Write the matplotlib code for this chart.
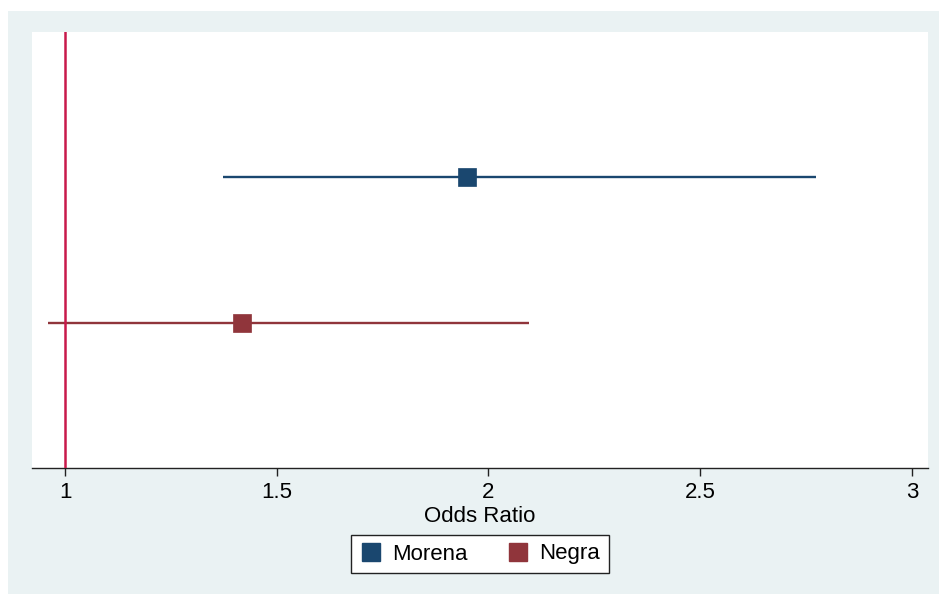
import matplotlib
matplotlib.use("Agg")
import matplotlib.pyplot as plt
from matplotlib.patches import Rectangle
from matplotlib.lines import Line2D

plt.rcParams['font.family'] = ['Liberation Sans', 'DejaVu Sans']

# Odds ratios with 95% confidence intervals
groups = ["Morena", "Negra"]
odds_ratio = [1.949, 1.418]
ci_low = [1.373, 0.960]
ci_high = [2.773, 2.096]
row_pos = [2, 1]
colors = ["#1a476f", "#90353b"]

xticks = [1, 1.5, 2, 2.5, 3]
xtick_labels = ["1", "1.5", "2", "2.5", "3"]
ref_value = 1

W, H = 939, 594
FS = 16
fig = plt.figure(figsize=(W / 100, H / 100), dpi=100, facecolor="white")

# Stata-style light bluish-gray graph region
bg = Rectangle((8 / W, 0), 1 - 8 / W, 1 - 11 / H, transform=fig.transFigure,
               facecolor="#eaf2f3", edgecolor="none", zorder=-10)
fig.add_artist(bg)

ax = fig.add_axes([32 / W, 1 - 468 / H, 896 / W, 436 / H])
ax.set_zorder(5)
ax.set_facecolor("white")

for name, est, lo, hi, y, c in zip(groups, odds_ratio, ci_low, ci_high, row_pos, colors):
    ax.plot([lo, hi], [y, y], color=c, lw=1.7, solid_capstyle="butt", zorder=2)
    ax.plot([est], [y], marker="s", ms=13, color=c, mec=c, mew=0.5,
            linestyle="none", zorder=4)

ax.axvline(ref_value, color="#c8194b", lw=1.8, zorder=3)

ax.set_xlim(0.922, 3.038)
ax.set_ylim(0, 3)
ax.set_yticks([])
ax.set_xticks(xticks)
ax.set_xticklabels(xtick_labels)
ax.tick_params(axis="x", direction="out", length=6, width=1, color="#222222",
               labelsize=FS, pad=4, labelcolor="black")

for side in ("top", "right", "left"):
    ax.spines[side].set_visible(False)
ax.spines["bottom"].set_color("#222222")
ax.spines["bottom"].set_linewidth(1)

ax.set_xlabel("Odds Ratio", fontsize=FS, va="baseline")
ax.xaxis.set_label_coords(0.5, (468 - 522) / 436)

handles = [Line2D([], [], marker="s", ms=13, color=c, mec=c, linestyle="none")
           for c in colors]
leg = fig.legend(handles, groups, loc="center", bbox_to_anchor=(480 / W, 1 - 554 / H),
                 ncol=2, fontsize=FS, frameon=True, fancybox=False,
                 handlelength=1.0, handletextpad=0.45, columnspacing=1.8,
                 borderpad=0.4)
leg.set_zorder(6)
leg.get_frame().set_edgecolor("#222222")
leg.get_frame().set_linewidth(1)
leg.get_frame().set_facecolor("white")
leg.get_frame().set_alpha(1)

fig.savefig("out.png", dpi=100, facecolor="white")
